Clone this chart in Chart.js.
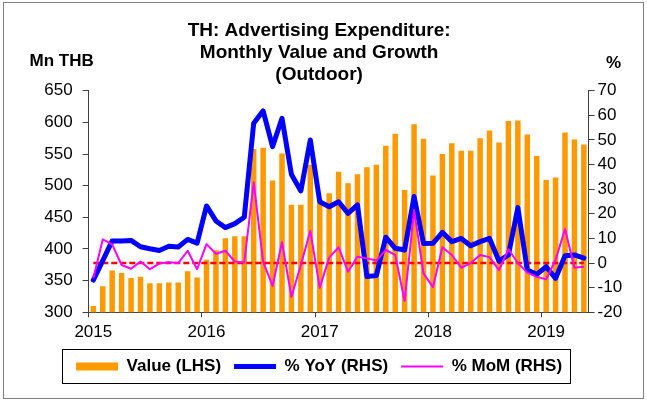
<!DOCTYPE html>
<html>
<head>
<meta charset="utf-8">
<script src="https://cdn.jsdelivr.net/npm/chart.js@4.4.1/dist/chart.umd.min.js"></script>
<style>
  html, body { margin: 0; padding: 0; background: #fff; }
</style>
</head>
<body>
<canvas id="adex-chart" width="647" height="402"></canvas>
<script>
// monthly categories, Jan 2015 - May 2019
const months = [
  'Jan-15','Feb-15','Mar-15','Apr-15','May-15','Jun-15','Jul-15','Aug-15','Sep-15','Oct-15','Nov-15','Dec-15',
  'Jan-16','Feb-16','Mar-16','Apr-16','May-16','Jun-16','Jul-16','Aug-16','Sep-16','Oct-16','Nov-16','Dec-16',
  'Jan-17','Feb-17','Mar-17','Apr-17','May-17','Jun-17','Jul-17','Aug-17','Sep-17','Oct-17','Nov-17','Dec-17',
  'Jan-18','Feb-18','Mar-18','Apr-18','May-18','Jun-18','Jul-18','Aug-18','Sep-18','Oct-18','Nov-18','Dec-18',
  'Jan-19','Feb-19','Mar-19','Apr-19','May-19'
];
const yearTicks = ['2015', '2016', '2017', '2018', '2019'];

// Mn THB (LHS)
const valueLHS = [
  310, 341, 366, 362, 354, 356, 346, 346, 347, 347, 365, 355,
  383, 398, 417, 420, 420, 558, 560, 508, 551, 470, 470, 533,
  478, 488, 522, 504, 518, 529, 533, 563, 582, 493, 597, 574,
  516, 550, 567, 555, 555, 575, 587, 568, 602, 603, 581, 547,
  509, 513, 584, 573, 565
];
// % YoY (RHS)
const yoyRHS = [
  -6.9, 1.0, 9.0, 9.0, 9.2, 6.6, 5.8, 5.1, 6.8, 6.5, 9.6, 8.1,
  23.2, 17.1, 14.4, 16.0, 18.6, 56.8, 61.8, 47.3, 58.8, 36.0, 29.3, 50.0,
  24.9, 22.9, 24.9, 20.2, 23.6, -5.5, -5.1, 10.5, 6.0, 5.3, 27.0, 7.9,
  8.0, 12.5, 8.7, 10.0, 7.0, 8.7, 10.0, 0.8, 3.3, 22.5, -2.8, -4.6,
  -1.5, -6.2, 3.0, 3.3, 2.0
];
// % MoM (RHS)
const momRHS = [
  -6.2, 9.6, 7.6, -0.8, -2.3, 0.6, -2.5, -0.2, 0.3, 0.0, 5.0, -2.5,
  7.7, 3.8, 5.0, 0.6, 0.2, 32.8, 0.6, -9.3, 8.5, -13.7, -0.8, 13.1,
  -10.0, 2.2, 6.4, -3.5, 2.6, 1.9, 1.0, 5.3, 3.3, -15.4, 21.5, -4.2,
  -9.8, 6.4, 3.3, -1.9, 0.0, 3.3, 2.4, -2.9, 5.6, 0.0, -3.9, -5.6,
  -6.6, 1.3, 13.8, -1.9, -1.5
];

const FONT = "'Liberation Sans', Arial, sans-serif";
const AXIS = '#404040';

// red dashed zero line on the RHS, above the bars, under the lines
const zeroLine = {
  id: 'zeroLine',
  afterDatasetDraw(chart, args) {
    if (args.index !== 0) return;
    const x = chart.scales.x, y = chart.scales.y1.getPixelForValue(0);
    const ctx = chart.ctx;
    ctx.save();
    ctx.strokeStyle = '#FF0000';
    ctx.lineWidth = 2.5;
    ctx.setLineDash([6, 3]);
    ctx.beginPath();
    ctx.moveTo(x.getPixelForValue(0), y);
    ctx.lineTo(x.getPixelForValue(months.length - 1), y);
    ctx.stroke();
    ctx.restore();
  }
};

// unit labels, legend frame and outer frame
const extras = {
  id: 'extras',
  afterDraw(chart) {
    const ctx = chart.ctx, a = chart.chartArea;
    ctx.save();
    ctx.fillStyle = '#000';
    ctx.font = 'bold 17px ' + FONT;
    ctx.textAlign = 'center';
    ctx.textBaseline = 'middle';
    ctx.fillText('Mn THB', a.left - 27, a.top - 29);
    ctx.fillText('%', a.right + 25, a.top - 27);

    const boxes = chart.legend.legendHitBoxes;
    const first = boxes[0], last = boxes[boxes.length - 1];
    ctx.strokeStyle = '#000';
    ctx.lineWidth = 1;
    ctx.strokeRect(Math.round(first.left - 14) + 0.5, Math.round(first.top - 9) + 0.5,
      Math.round(last.left + last.width - first.left + 22), 34);

    ctx.strokeStyle = '#808080';
    ctx.strokeRect(3.5, 2.5, 640, 396);
    ctx.restore();
  }
};

new Chart(document.getElementById('adex-chart'), {
  type: 'bar',
  data: {
    labels: months,
    datasets: [
      {
        label: 'Value (LHS)',
        data: valueLHS,
        yAxisID: 'y',
        backgroundColor: '#FF9900',
        borderWidth: 0,
        barPercentage: 0.58,
        categoryPercentage: 1,
        pointStyle: 'rect',
        order: 3
      },
      {
        type: 'line',
        label: '% YoY (RHS)',
        data: yoyRHS,
        yAxisID: 'y1',
        borderColor: '#0000FF',
        backgroundColor: '#0000FF',
        borderWidth: 5,
        borderJoinStyle: 'round',
        borderCapStyle: 'round',
        pointRadius: 0,
        pointStyle: 'line',
        tension: 0,
        order: 2
      },
      {
        type: 'line',
        label: '% MoM (RHS)',
        data: momRHS,
        yAxisID: 'y1',
        borderColor: '#FF00FF',
        backgroundColor: '#FF00FF',
        borderWidth: 2,
        borderJoinStyle: 'round',
        pointRadius: 0,
        pointStyle: 'line',
        tension: 0,
        order: 1
      }
    ]
  },
  options: {
    responsive: false,
    animation: false,
    devicePixelRatio: 1,
    layout: { padding: { left: 0, right: 8.8, top: 0, bottom: 17 } },
    plugins: {
      title: {
        display: true,
        text: ['TH: Advertising Expenditure:', 'Monthly Value and Growth', '(Outdoor)'],
        color: '#000',
        font: { family: FONT, size: 19, weight: 'bold', lineHeight: '22px' },
        padding: { top: 20, bottom: 4.7 }
      },
      legend: {
        position: 'bottom',
        labels: {
          usePointStyle: true,
          pointStyleWidth: 42,
          boxHeight: 8,
          padding: 13,
          color: '#000',
          font: { family: FONT, size: 17, weight: 'bold' },
          sort: (a, b) => a.datasetIndex - b.datasetIndex
        }
      },
      tooltip: { enabled: false }
    },
    scales: {
      x: {
        type: 'category',
        offset: true,
        afterFit(scale) { scale.height = 32.7; },
        grid: {
          offset: true,
          drawOnChartArea: false,
          tickLength: 5,
          tickColor: ctx => (ctx.index % 12 === 0 ? AXIS : 'rgba(0,0,0,0)')
        },
        border: { color: AXIS, width: 1 },
        ticks: {
          autoSkip: false,
          maxRotation: 0,
          padding: 5,
          color: '#000',
          font: { family: FONT, size: 17 },
          callback: (v, i) => (i % 12 === 0 ? yearTicks[i / 12] : '')
        }
      },
      y: {
        position: 'left',
        min: 300,
        max: 650,
        afterFit(scale) { scale.width = 88.6; },
        grid: { drawOnChartArea: false, tickLength: 6, tickColor: AXIS },
        border: { color: AXIS, width: 1 },
        ticks: { stepSize: 50, padding: 10, color: '#000', font: { family: FONT, size: 17 } }
      },
      y1: {
        position: 'right',
        min: -20,
        max: 70,
        afterFit(scale) { scale.width = 49.6; },
        grid: { drawOnChartArea: false, tickLength: 6, tickColor: AXIS },
        border: { color: AXIS, width: 1 },
        ticks: { stepSize: 10, padding: 3, color: '#000', font: { family: FONT, size: 17 } }
      }
    }
  },
  plugins: [zeroLine, extras]
});
</script>
</body>
</html>
